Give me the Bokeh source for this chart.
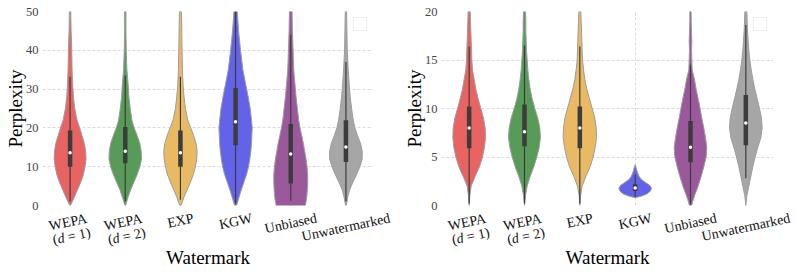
import math
from bokeh.plotting import figure
from bokeh.layouts import row, column
from bokeh.models import Range1d, FixedTicker, ColumnDataSource, Legend, LegendItem
from bokeh.core.properties import value
from bokeh.embed import file_html
from bokeh.resources import INLINE

# ---------------- data ----------------
CATEGORIES = ["WEPA (d=1)", "WEPA (d=2)", "EXP", "KGW", "Unbiased", "Unwatermarked"]
TICK_LINE1 = ["WEPA", "WEPA", "EXP", "KGW", "Unbiased", "Unwatermarked"]
TICK_LINE2 = ["(d = 1)", "(d = 2)", "", "", "", ""]
X_LABEL = "Watermark"
Y_LABEL = "Perplexity"
COLORS = ["#e96363", "#589b58", "#e9ba63", "#6363e9", "#9b589b", "#a6a6a6"]

# left panel: density profile (relative half-width) at perplexity levels
LEFT_LEVELS = [0, 2, 4, 6, 8, 10, 12, 14, 16, 18, 20, 22, 25, 28, 31, 35, 40, 45, 50]
L_WEPA1 = [1, 12, 22, 32, 40, 45, 48, 47, 43, 36, 29, 21, 14, 10, 8, 6, 5, 3, 2]
L_WEPA2 = [1, 8, 16, 26, 36, 44, 49, 48, 44, 36, 27, 20, 15, 11, 9, 5, 3, 2, 2]
L_EXP = [2, 10, 20, 30, 39, 45, 49, 50, 47, 40, 31, 22, 15, 11, 8, 6, 5, 4, 3]
L_KGW = [3, 10, 17, 25, 33, 39, 43, 46, 48, 49, 50, 48, 44, 38, 31, 22, 15, 9, 5]
L_UNB = [44, 48, 50, 51, 51, 49, 46, 42, 38, 33, 28, 24, 20, 16, 13, 9, 7, 5, 4]
L_UNW = [1, 5, 11, 21, 32, 42, 49, 49, 44, 35, 27, 22, 17, 13, 10, 7, 4, 3, 2]
# left panel box statistics
L_Q1 = [10.0, 10.9, 10.0, 15.5, 5.7, 11.2]
L_MED = [13.6, 14.0, 13.6, 21.6, 13.3, 15.1]
L_Q3 = [19.3, 20.2, 19.3, 30.3, 21.0, 22.0]
L_WLO = [1.0, 1.0, 1.5, 0.5, 1.2, 1.0]
L_WHI = [33.2, 33.5, 33.2, 50.0, 44.0, 37.0]

# right panel
RIGHT_LEVELS = [0, 1, 2, 3, 4, 5, 6, 7, 8, 9, 10, 11, 12, 13, 14, 15, 16, 17, 18, 19, 20]
R_WEPA1 = [0, 2, 6, 18, 31, 40, 46, 49, 48, 43, 35, 27, 20, 15, 10, 8, 7, 6, 5, 4, 3]
R_WEPA2 = [0, 3, 8, 17, 28, 37, 44, 48, 46, 40, 31, 23, 17, 13, 10, 8, 6, 5, 4, 4, 3]
R_EXP = [0, 2, 7, 18, 31, 40, 46, 50, 49, 45, 37, 29, 21, 15, 11, 8, 7, 6, 5, 4, 3]
R_KGW_LEVELS = [0.8, 1.0, 1.2, 1.5, 1.8, 2.1, 2.4, 2.7, 3.0, 3.3, 3.6, 3.9, 4.2]
R_KGW = [0, 22, 36, 46, 49, 43, 30, 18, 12, 8, 5, 3, 0]
R_UNB = [3, 12, 23, 32, 40, 47, 49, 45, 40, 34, 29, 23, 17, 12, 5, 4, 3, 4, 3, 2, 2]
R_UNW = [0, 3, 9, 15, 21, 28, 36, 45, 49, 47, 41, 34, 27, 21, 16, 12, 9, 7, 5, 4, 3]
R_Q1 = [5.9, 6.1, 5.9, 1.5, 4.45, 6.2]
R_MED = [8.0, 7.6, 8.0, 1.8, 6.0, 8.5]
R_Q3 = [10.2, 10.4, 10.2, 2.2, 8.7, 11.4]
R_WLO = [0.2, 0.2, 0.2, 0.9, 0.1, 2.8]
R_WHI = [16.4, 16.5, 16.4, 3.2, 14.5, 18.6]

LEFT_YTICKS = [0, 10, 20, 30, 40, 50]
RIGHT_YTICKS = [0, 5, 10, 15, 20]

# ---------------- styling / layout ----------------
FONT = "Liberation Serif"
WSCALE = 1.0 / 166.0
THETA = math.radians(12)
TICK_FS = 14
TOP = 11          # border above the plot frame
PLOT_H = 194      # frame height
BOT = 7           # border under the frame (room for the "0" tick label)
STRIP_H = 60      # strip with category labels and x title
BL = 42           # left border (y axis)
CHAR_W = {"W": .944, "E": .611, "P": .556, "A": .722, "X": .722, "K": .722, "G": .722,
          "U": .722, "(": .333, ")": .333, "d": .5, "=": .564, "1": .5, "2": .5, "n": .5,
          "b": .5, "i": .278, "a": .444, "s": .389, "e": .444, "w": .722, "t": .278,
          "r": .333, "m": .778, "k": .5, " ": .25}


def tw(s):
    return sum(CHAR_W.get(c, .5) for c in s) * TICK_FS


def make_panel(levels_list, dens_list, q1, med, q3, wlo, whi, yend, yticks,
               band_w, ext_r):
    ncat = len(CATEGORIES)
    cats = list(range(ncat))
    p = figure(output_backend="svg", toolbar_location=None,
               frame_width=band_w, frame_height=PLOT_H,
               x_range=Range1d(-0.5, ncat - 0.5), y_range=Range1d(0, yend),
               min_border_top=TOP, min_border_bottom=BOT,
               min_border_left=BL, min_border_right=0)
    p.outline_line_color = None
    p.background_fill_color = "white"
    p.border_fill_color = "white"
    p.xaxis.visible = False
    p.xaxis.ticker = FixedTicker(ticks=cats)
    p.ygrid.ticker = FixedTicker(ticks=yticks[1:-1])
    for g in (p.xgrid, p.ygrid):
        g.grid_line_color = "#d2d2d2"
        g.grid_line_dash = "3 2"
        g.grid_line_width = 0.8

    ax = p.yaxis
    ax.ticker = FixedTicker(ticks=yticks)
    ax.axis_line_color = None
    ax.major_tick_line_color = None
    ax.minor_tick_line_color = None
    ax.major_tick_out = 0
    ax.major_tick_in = 0
    ax.minor_tick_out = 0
    ax.axis_label = Y_LABEL
    ax.axis_label_text_font = FONT
    ax.axis_label_text_font_style = "normal"
    ax.axis_label_text_font_size = "19px"
    ax.axis_label_text_color = "black"
    ax.axis_label_standoff = -3
    ax.major_label_text_font = FONT
    ax.major_label_text_font_size = "12.5px"
    ax.major_label_text_color = "#444444"
    ax.major_label_standoff = 4

    for i, (lev, dens) in enumerate(zip(levels_list, dens_list)):
        hw = [d * WSCALE for d in dens]
        xs = [i + w for w in hw] + [i - w for w in reversed(hw)]
        ys = list(lev) + list(reversed(lev))
        p.patch(xs, ys, fill_color=COLORS[i], fill_alpha=1.0,
                line_color="#9c9c9c", line_width=1)

    src = ColumnDataSource(dict(x=cats, q1=q1, med=med, q3=q3, wlo=wlo, whi=whi))
    p.segment(x0="x", y0="wlo", x1="x", y1="whi", source=src,
              line_color="#3c3c3c", line_width=1.2)
    p.segment(x0="x", y0="q1", x1="x", y1="q3", source=src,
              line_color="#3c3c3c", line_width=4.5)
    p.scatter(x="x", y="med", source=src, size=3.5, fill_color="white",
              line_color=None)

    dummy = p.scatter(x=[], y=[], alpha=0)
    leg = Legend(items=[LegendItem(label=" ", renderers=[dummy])],
                 location="top_right", glyph_width=2, glyph_height=2,
                 label_width=0, label_height=0, label_standoff=0,
                 label_text_font_size="1px", padding=5, margin=6, spacing=0,
                 border_line_color="#dddddd", border_line_width=1,
                 background_fill_color="white", background_fill_alpha=0.9)
    p.add_layout(leg)

    # ---- label strip below: same left border and scale, frame extended right ----
    pxx = band_w / ncat
    q = figure(output_backend="svg", toolbar_location=None,
               x_axis_location=None, y_axis_location=None,
               frame_width=band_w + ext_r, frame_height=STRIP_H,
               x_range=Range1d(-0.5, ncat - 0.5 + ext_r / pxx),
               y_range=Range1d(-BOT - STRIP_H, -BOT),
               min_border_left=BL, min_border_right=0,
               min_border_top=0, min_border_bottom=0)
    q.grid.visible = False
    q.outline_line_color = None
    q.border_fill_color = "white"
    q.background_fill_color = "white"

    s, c = math.sin(THETA), math.cos(THETA)
    L, H, gap = 14.5, 11.0, 7.0
    normal = dict(x=[], y=[], text=[])
    italic = dict(x=[], y=[], text=[])
    for i in cats:
        lines = [TICK_LINE1[i]] + ([TICK_LINE2[i]] if TICK_LINE2[i] else [])
        n = len(lines)
        W = max(tw(t) for t in lines)
        bbox_h = W * s + ((n - 1) * L + H) * c
        cy = gap + bbox_h / 2.0               # pixels below the frame bottom
        for k, t in enumerate(lines):
            m = (k - (n - 1) / 2.0) * L
            wl = tw(t)
            sx = m * s - wl / 2.0 * c
            sy = cy + m * c + wl / 2.0 * s
            if "d" in t and t.startswith("("):
                a, b = t.split("d", 1)
                pieces = [(a, normal), ("d", italic), (b, normal)]
            else:
                pieces = [(t, normal)]
            acc = 0.0
            for txt, dst in pieces:
                lead = len(txt) - len(txt.lstrip(" "))
                acc += tw(" " * lead)
                txt = txt.lstrip(" ")
                dst["x"].append(i + (sx + acc * c) / pxx)
                dst["y"].append(-(sy - acc * s))
                dst["text"].append(txt)
                acc += tw(txt)
    for d, style in ((normal, "normal"), (italic, "italic")):
        q.text(x="x", y="y", text="text", source=ColumnDataSource(d),
               angle=THETA, text_align="left", text_baseline="middle",
               text_font=value(FONT), text_font_style=value(style),
               text_font_size=value(f"{TICK_FS}px"), text_color="#111111")
    q.text(x=[(ncat - 1) / 2.0], y=[-51.5], text=[X_LABEL],
           text_align="center", text_baseline="middle", text_font=value(FONT),
           text_font_size=value("19px"), text_color="black")
    return column(p, q, spacing=0)


c1 = make_panel([LEFT_LEVELS] * 6, [L_WEPA1, L_WEPA2, L_EXP, L_KGW, L_UNB, L_UNW],
                L_Q1, L_MED, L_Q3, L_WLO, L_WHI, 50, LEFT_YTICKS,
                band_w=331, ext_r=26)
c2 = make_panel([RIGHT_LEVELS, RIGHT_LEVELS, RIGHT_LEVELS, R_KGW_LEVELS, RIGHT_LEVELS, RIGHT_LEVELS],
                [R_WEPA1, R_WEPA2, R_EXP, R_KGW, R_UNB, R_UNW],
                R_Q1, R_MED, R_Q3, R_WLO, R_WHI, 20, RIGHT_YTICKS,
                band_w=332, ext_r=24)

layout = row(c1, c2, spacing=0)
open("out.html", "w").write(file_html(layout, INLINE))
